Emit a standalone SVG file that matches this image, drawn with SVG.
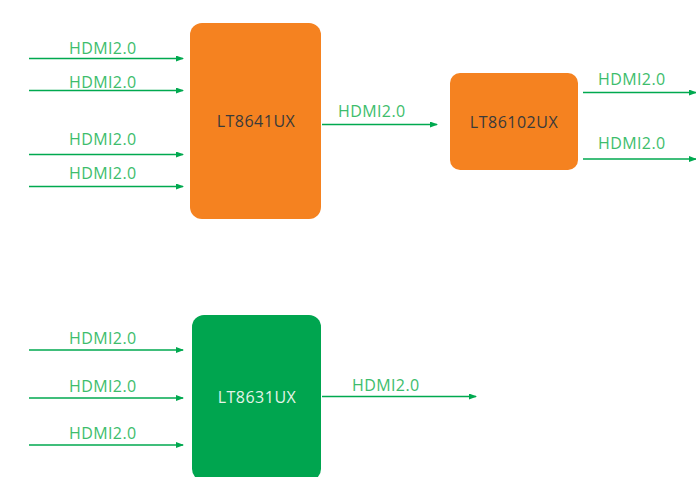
<svg xmlns="http://www.w3.org/2000/svg" width="696" height="477" viewBox="0 0 696 477">
<style>
.lbl{font-family:"Open Sans","Noto Sans",sans-serif;font-size:16px;fill:#3dbd6c;letter-spacing:0.4px}
.name{font-family:"Open Sans","Noto Sans",sans-serif;font-size:16px;text-anchor:middle;letter-spacing:0.5px}
.ln{stroke:#00a94f;stroke-width:1.5;fill:none;marker-end:url(#ah)}
</style>
<defs>
<marker id="ah" markerWidth="8" markerHeight="6" refX="7" refY="3" orient="auto" markerUnits="userSpaceOnUse">
<path d="M0,0 L8,3 L0,6 Z" fill="#00a94f"/>
</marker>
</defs>
<rect width="696" height="477" fill="#fff"/>
<g id="n1"><rect x="190" y="23" width="131" height="196" rx="12" fill="#f58220"/><text class="name" x="256" y="127" fill="#3a3a3a">LT8641UX</text></g>
<g id="n2"><rect x="450" y="73" width="128" height="97" rx="10" fill="#f58220"/><text class="name" x="514" y="128" fill="#3a3a3a">LT86102UX</text></g>
<g id="n3"><rect x="192" y="315" width="129" height="166" rx="12" fill="#00a54f"/><text class="name" x="257" y="403" fill="#e4f4e8">LT8631UX</text></g>
<g id="connectors">
<line class="ln" x1="29" y1="58.5" x2="183" y2="58.5"/>
<line class="ln" x1="29" y1="90.5" x2="183" y2="90.5"/>
<line class="ln" x1="29" y1="154.5" x2="183" y2="154.5"/>
<line class="ln" x1="29" y1="186.5" x2="183" y2="186.5"/>
<line class="ln" x1="322" y1="124.5" x2="437" y2="124.5"/>
<line class="ln" x1="583" y1="92.5" x2="696" y2="92.5"/>
<line class="ln" x1="583" y1="159" x2="696" y2="159"/>
<line class="ln" x1="29" y1="350" x2="183" y2="350"/>
<line class="ln" x1="29" y1="398" x2="183" y2="398"/>
<line class="ln" x1="29" y1="445" x2="183" y2="445"/>
<line class="ln" x1="322" y1="396.5" x2="476" y2="396.5"/>
</g>
<g id="labels">
<text class="lbl" x="69" y="54">HDMI2.0</text>
<text class="lbl" x="69" y="88">HDMI2.0</text>
<text class="lbl" x="69" y="145">HDMI2.0</text>
<text class="lbl" x="69" y="179">HDMI2.0</text>
<text class="lbl" x="338" y="117">HDMI2.0</text>
<text class="lbl" x="598" y="85">HDMI2.0</text>
<text class="lbl" x="598" y="149">HDMI2.0</text>
<text class="lbl" x="69" y="344">HDMI2.0</text>
<text class="lbl" x="69" y="392">HDMI2.0</text>
<text class="lbl" x="69" y="439">HDMI2.0</text>
<text class="lbl" x="352" y="391">HDMI2.0</text>
</g>
</svg>
